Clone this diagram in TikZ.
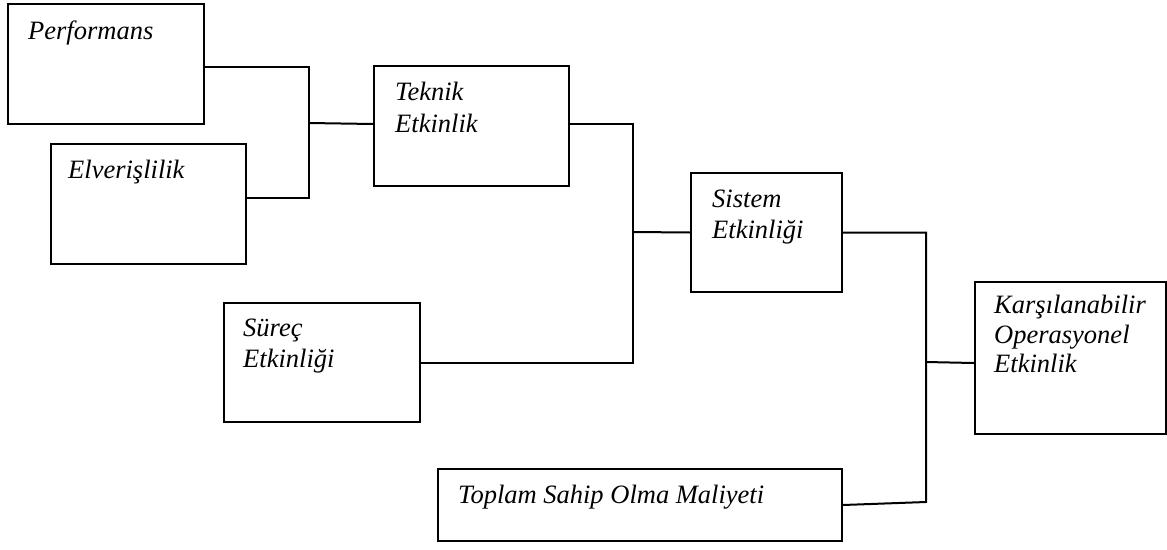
\documentclass[tikz,border=0pt]{standalone}
\usepackage{fontspec}
\setmainfont{Liberation Serif}[ItalicFont={Liberation Serif Italic}]
\begin{document}
\begin{tikzpicture}[x=1pt,y=-1pt,
  box/.style={draw, line width=2pt, inner sep=0pt, anchor=north west},
  lbl/.style={anchor=base west, inner sep=0pt, font=\fontsize{26.5}{31}\selectfont\itshape},
  conn/.style={line width=2pt}]
\useasboundingbox (0,0) rectangle (1167,549);
% boxes
\node[box, minimum width=196pt, minimum height=120pt] (perf) at (7,3) {};
\node[box, minimum width=195pt, minimum height=120pt] (elv) at (50,143) {};
\node[box, minimum width=195pt, minimum height=120pt] (tek) at (373,65) {};
\node[box, minimum width=196pt, minimum height=119pt] (sur) at (223,302) {};
\node[box, minimum width=151pt, minimum height=119pt] (sis) at (690,172) {};
\node[box, minimum width=191pt, minimum height=152pt] (kar) at (974,281) {};
\node[box, minimum width=404pt, minimum height=72pt] (top) at (437,468) {};
% texts
\node[lbl] (tperf) at (28,39) {Performans};
\node[lbl] (telv) at (68,178) {Elverişlilik};
\node[lbl] (ttek1) at (395,100) {Teknik};
\node[lbl] (ttek2) at (395,132) {Etkinlik};
\node[lbl] (tsis1) at (712,207) {Sistem};
\node[lbl] (tsis2) at (712,238) {Etkinliği};
\node[lbl] (tsur1) at (243,336) {Süreç};
\node[lbl] (tsur2) at (243,367) {Etkinliği};
\node[lbl] (tkar1) at (994,313) {Karşılanabilir};
\node[lbl] (tkar2) at (994,343) {Operasyonel};
\node[lbl] (tkar3) at (994,372) {Etkinlik};
\node[lbl] (ttop) at (458,503) {Toplam Sahip Olma Maliyeti};
% junctions
\coordinate (j1) at (309,123);
\coordinate (j2) at (633,232);
\coordinate (j3) at (926,362);
\coordinate (j3b) at (926,502);
% connectors
\draw[conn] ([yshift=-3pt]perf.east) -| (j1) |- ([yshift=6pt]elv.east);
\draw[conn] (j1) -- ([yshift=2pt]tek.west);
\draw[conn] ([yshift=2pt]tek.east) -| (j2) |- (sur.east);
\draw[conn] (j2) -- (sis.west);
\draw[conn] (sis.east) -| (j3) -- (j3b) -- (top.east);
\draw[conn] (j3) -- ([yshift=-5pt]kar.west);
\end{tikzpicture}
\end{document}
